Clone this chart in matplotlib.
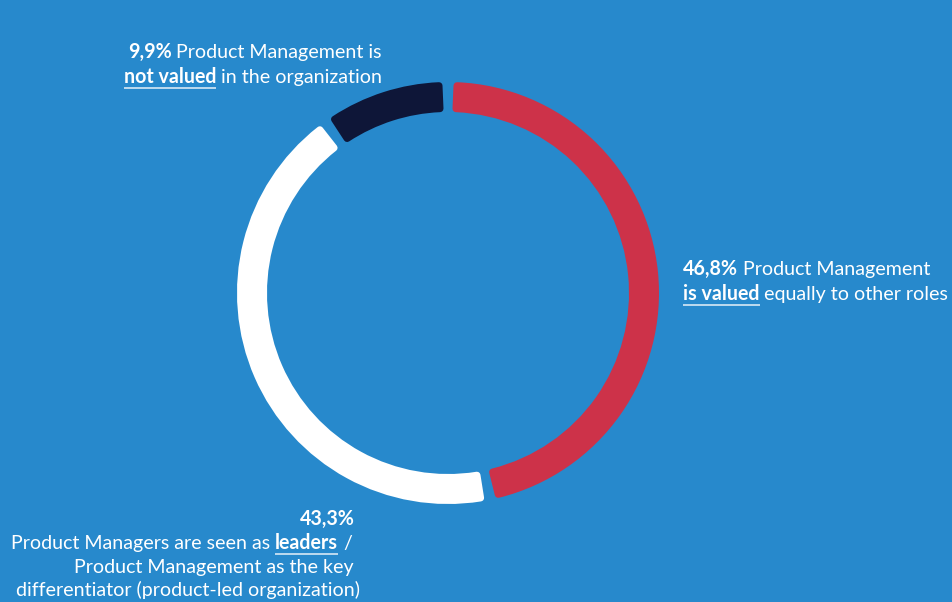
import numpy as np
import matplotlib
matplotlib.use('Agg')
import matplotlib.pyplot as plt
from matplotlib.patches import Wedge

# data
shares = [46.8, 43.3, 9.9]            # clockwise from 12 o'clock
seg_colors = ['#CD3249', '#FFFFFF', '#0E1638']
pct_labels = ['46,8%', '43,3%', '9,9%']

W, H = 952, 602
bg = '#2789CC'
fs = 14.1
font = 'Lato'

fig = plt.figure(figsize=(W / 100, H / 100), dpi=100)
fig.set_facecolor(bg)
ax = fig.add_axes([0, 0, 1, 1])
ax.set_facecolor(bg)
ax.set_xlim(0, W)
ax.set_ylim(H, 0)   # pixel coords, y down
ax.axis('off')

# donut ring
cx, cy, r_out, ring = 448, 293, 211, 30
gap = 10      # px between segments
rnd = 7       # stroke width used to round the corners
mid_r = r_out - ring / 2
half = np.degrees((gap / 2 + rnd / 2) / mid_r)
start = -90   # top (y axis is inverted so angles go clockwise)
cum = 0
for v, c in zip(shares, seg_colors):
    t1 = start + cum * 3.6 + half
    t2 = start + (cum + v) * 3.6 - half
    w = Wedge((cx, cy), r_out - rnd / 2, t1, t2, width=ring - rnd,
              facecolor=c, edgecolor=c, linewidth=rnd * 0.72)
    w.set_joinstyle('round')
    ax.add_patch(w)
    cum += v

renderer = fig.canvas.get_renderer()


def text_w(s, bold):
    t = ax.text(0, 0, s, fontsize=fs, family=font,
                fontweight='bold' if bold else 'normal')
    wd = t.get_window_extent(renderer).width
    t.remove()
    return wd


space = text_w('x x', False) - text_w('xx', False)


def line(x, y, runs, ha='left'):
    # runs: (text, bold, underline)
    widths = [text_w(s, b) for s, b, u in runs]
    total = sum(widths) + space * (len(runs) - 1)
    x0 = x - total if ha == 'right' else x
    for (s, b, u), wd in zip(runs, widths):
        ax.text(x0, y, s, fontsize=fs, family=font, color='white',
                fontweight='bold' if b else 'normal', va='baseline', ha='left')
        if u:
            ax.plot([x0, x0 + wd], [y + 4.5, y + 4.5], color='white',
                    alpha=0.75, lw=1.3, solid_capstyle='butt')
        x0 += wd + space


# 9,9% label (top left)
line(382, 58, [(pct_labels[2], True, False), ('Product Management is', False, False)], 'right')
line(382, 83, [('not valued', True, True), ('in the organization', False, False)], 'right')

# 46,8% label (right)
line(683, 275, [(pct_labels[0], True, False), ('Product Management', False, False)])
line(683, 300, [('is valued', True, True), ('equally to other roles', False, False)])

# 43,3% label (bottom left)
line(355, 525, [(pct_labels[1], True, False)], 'right')
line(352, 549, [('Product Managers are seen as', False, False), ('leaders', True, True),
                ('/', False, False)], 'right')
line(354, 573, [('Product Management as the key', False, False)], 'right')
line(360, 596, [('differentiator (product-led organization)', False, False)], 'right')

fig.savefig('out.png', dpi=100, facecolor=bg)
